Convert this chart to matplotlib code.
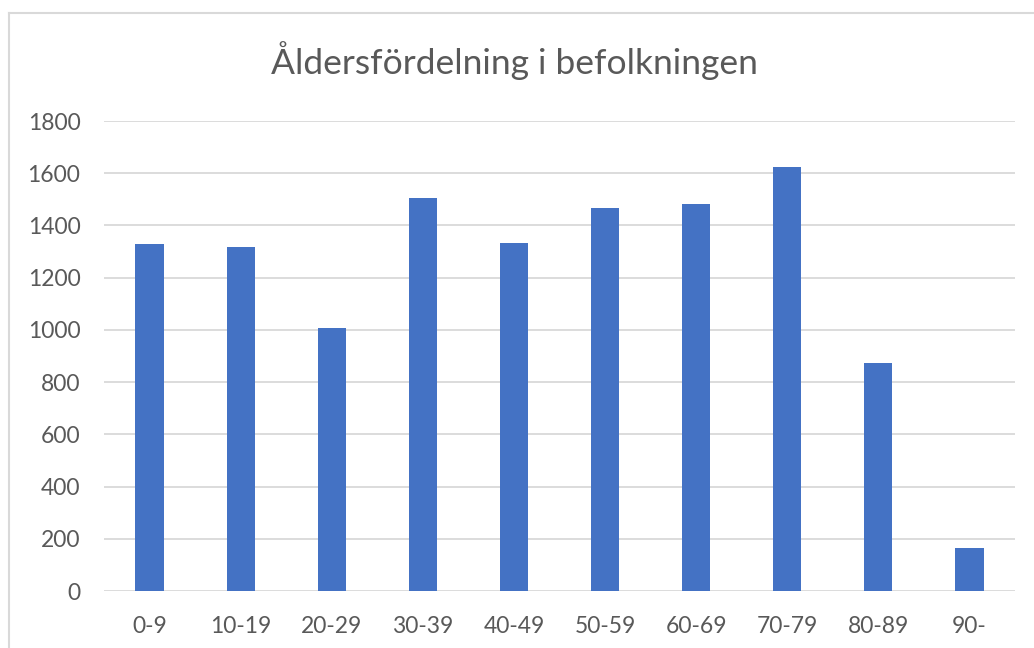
import matplotlib
matplotlib.use('Agg')
import matplotlib.pyplot as plt

# Age groups and population counts
age_groups = ['0-9', '10-19', '20-29', '30-39', '40-49', '50-59', '60-69', '70-79', '80-89', '90-']
counts = [1329, 1317, 1006, 1504, 1333, 1468, 1483, 1622, 874, 164]
y_ticks = [0, 200, 400, 600, 800, 1000, 1200, 1400, 1600, 1800]

plt.rcParams['font.family'] = ['Lato', 'DejaVu Sans']

text_color = '#595959'
grid_color = '#D9D9D9'

fig = plt.figure(figsize=(10.34, 6.48), dpi=100)
ax = fig.add_axes([104 / 1034, 57 / 648, 911 / 1034, 470 / 648])

x = range(len(age_groups))
ax.bar(x, counts, width=0.31, color='#4472C4', zorder=3)

ax.set_xlim(-0.5, len(age_groups) - 0.5)
ax.set_ylim(0, 1800)
ax.set_yticks(y_ticks)
ax.set_yticklabels([str(v) for v in y_ticks])
ax.set_xticks(list(x))
ax.set_xticklabels(age_groups)

ax.grid(axis='y', color=grid_color, linewidth=1.3, zorder=0)
for s in ax.spines.values():
    s.set_visible(False)
ax.tick_params(axis='both', length=0, labelsize=16.5, colors=text_color)
ax.tick_params(axis='y', pad=17)
ax.tick_params(axis='x', pad=18)

fig.text(514 / 1034, 1 - 61 / 648, 'Åldersfördelning i befolkningen',
         ha='center', va='center', fontsize=25.5, color=text_color)

# chart area border (left and top edge visible)
fig.add_artist(plt.Line2D([9 / 1034, 9 / 1034], [0, 1 - 13 / 648], color=grid_color, linewidth=1.5))
fig.add_artist(plt.Line2D([9 / 1034, 1], [1 - 13 / 648, 1 - 13 / 648], color=grid_color, linewidth=1.5))

plt.savefig('out.png', dpi=100)
